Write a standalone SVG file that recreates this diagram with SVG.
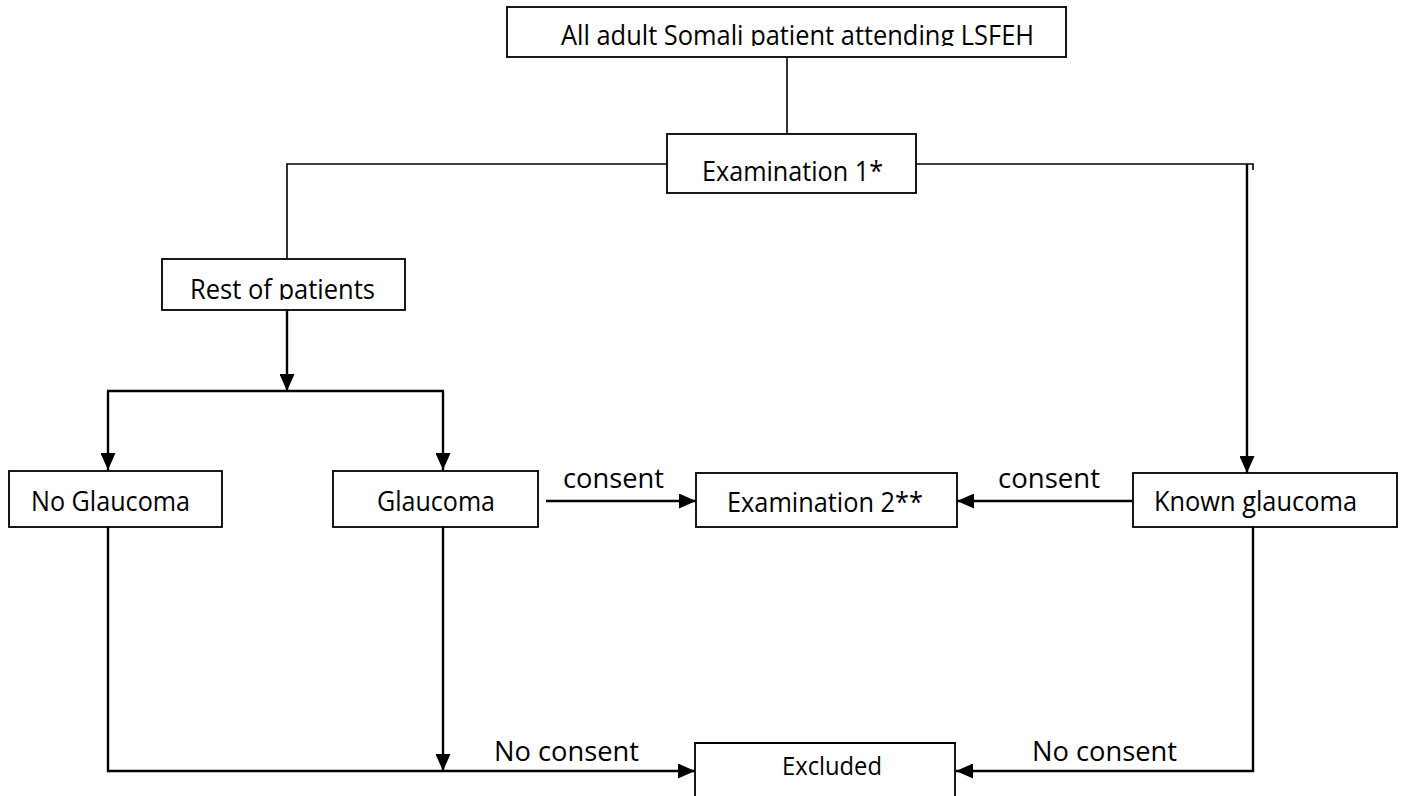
<svg xmlns="http://www.w3.org/2000/svg" width="1402" height="796" viewBox="0 0 1402 796">
<style>
.box{fill:#fff;stroke:#000;stroke-width:1.8}
.t{font-family:"Open Sans","Liberation Sans",sans-serif;font-size:27.5px;fill:#000}
.c1{fill:none;stroke:#000;stroke-width:1.6}
.c2{fill:none;stroke:#000;stroke-width:2.4}
</style>
<defs>
<marker id="ah" markerUnits="userSpaceOnUse" markerWidth="17" markerHeight="15" viewBox="0 0 17 15" refX="17" refY="7.5" orient="auto">
<path d="M0,0 L17,7.5 L0,15 Z" fill="#000"/>
</marker>
<clipPath id="clipTop"><rect x="507" y="7" width="560" height="39"/></clipPath>
<clipPath id="clipRest"><rect x="162" y="259" width="243" height="41"/></clipPath>
</defs>
<rect width="1402" height="796" fill="#fff"/>
<g id="connectors">
<path class="c1" d="M787,57 V134"/>
<path class="c1" d="M667,164 H287 V259"/>
<path class="c1" d="M916,164 H1253 V170"/>
<path class="c2" d="M1247,164 V473" marker-end="url(#ah)"/>
<path class="c2" d="M287,310 V391" marker-end="url(#ah)"/>
<path class="c2" d="M107,391 H444"/>
<path class="c2" d="M108,391 V470" marker-end="url(#ah)"/>
<path class="c2" d="M443,391 V470" marker-end="url(#ah)"/>
<path class="c2" d="M546,501 H696" marker-end="url(#ah)"/>
<path class="c2" d="M1133,501 H957" marker-end="url(#ah)"/>
<path class="c2" d="M108,527 V771 H695" marker-end="url(#ah)"/>
<path class="c2" d="M443,527 V771" marker-end="url(#ah)"/>
<path class="c2" d="M1253,527 V771 H956" marker-end="url(#ah)"/>
<text class="t" x="563" y="488" textLength="101" lengthAdjust="spacingAndGlyphs">consent</text>
<text class="t" x="998" y="488" textLength="102" lengthAdjust="spacingAndGlyphs">consent</text>
<text class="t" x="494" y="761" textLength="145" lengthAdjust="spacingAndGlyphs">No consent</text>
<text class="t" x="1032" y="761" textLength="145" lengthAdjust="spacingAndGlyphs">No consent</text>
</g>
<g id="n-top">
<rect class="box" x="507" y="7" width="559" height="50"/>
<text class="t" x="561" y="45" textLength="473" lengthAdjust="spacingAndGlyphs" clip-path="url(#clipTop)">All adult Somali patient attending LSFEH</text>
</g>
<g id="n-exam1">
<rect class="box" x="667" y="134" width="249" height="59"/>
<text class="t" x="702" y="181" textLength="181" lengthAdjust="spacingAndGlyphs">Examination 1*</text>
</g>
<g id="n-rest">
<rect class="box" x="162" y="259" width="243" height="51"/>
<text class="t" x="190" y="299" textLength="185" lengthAdjust="spacingAndGlyphs" clip-path="url(#clipRest)">Rest of patients</text>
</g>
<g id="n-noglaucoma">
<rect class="box" x="9" y="471" width="213" height="56"/>
<text class="t" x="31" y="511" textLength="159" lengthAdjust="spacingAndGlyphs">No Glaucoma</text>
</g>
<g id="n-glaucoma">
<rect class="box" x="333" y="471" width="205" height="56"/>
<text class="t" x="377" y="511" textLength="118" lengthAdjust="spacingAndGlyphs">Glaucoma</text>
</g>
<g id="n-exam2">
<rect class="box" x="696" y="473" width="261" height="54"/>
<text class="t" x="727" y="512" textLength="196" lengthAdjust="spacingAndGlyphs">Examination 2**</text>
</g>
<g id="n-known">
<rect class="box" x="1133" y="473" width="264" height="54"/>
<text class="t" x="1154" y="511" textLength="203" lengthAdjust="spacingAndGlyphs">Known glaucoma</text>
</g>
<g id="n-excluded">
<path class="box" d="M695,800 V743 H955 V800"/>
<text class="t" x="782" y="775" style="font-size:25px" textLength="100" lengthAdjust="spacingAndGlyphs">Excluded</text>
</g>
</svg>
